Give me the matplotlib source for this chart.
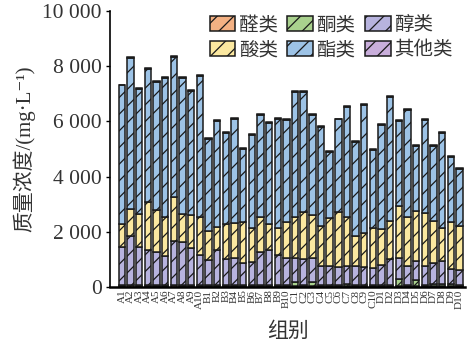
import matplotlib.pyplot as plt
import numpy as np
from matplotlib.ticker import FuncFormatter, MultipleLocator

plt.rcParams['font.family'] = ['Liberation Serif', 'Noto Sans CJK SC', 'DejaVu Sans']
plt.rcParams['hatch.linewidth'] = 0.9

groups = ['A%d' % i for i in range(1, 11)] + ['B%d' % i for i in range(1, 11)] + \
         ['C%d' % i for i in range(1, 11)] + ['D%d' % i for i in range(1, 11)]

# values in mg/L
aldehyde = [40, 50, 40, 40, 40, 40, 50, 40, 40, 40,
            30, 40, 30, 30, 30, 30, 40, 30, 30, 30,
            40, 40, 40, 30, 30, 30, 40, 30, 30, 30,
            30, 40, 40, 30, 40, 30, 40, 30, 30, 30]
ketone = [30, 30, 30, 30, 30, 30, 30, 30, 30, 30,
          30, 30, 30, 30, 30, 30, 30, 30, 30, 30,
          150, 40, 130, 30, 30, 30, 60, 40, 40, 30,
          40, 40, 250, 40, 200, 40, 60, 90, 90, 50]
alcohol = [1370, 1780, 1360, 1270, 1190, 1030, 1590, 1570, 1320, 1080,
           920, 1270, 950, 980, 820, 840, 1190, 1260, 1100, 980,
           850, 930, 870, 710, 680, 650, 670, 670, 640, 620,
           730, 930, 770, 700, 680, 670, 780, 800, 530, 540]
acid = [830, 950, 1200, 1730, 1520, 1420, 1590, 1000, 1210, 1400,
        1050, 830, 1260, 1260, 1460, 1250, 1290, 950, 990, 1300,
        1510, 1720, 1570, 1420, 1750, 2020, 1780, 1110, 1260, 1450,
        1290, 1360, 1870, 1750, 1840, 1930, 1490, 1210, 1690, 1600]
ester = [5030, 5480, 4540, 4820, 4650, 5040, 5080, 4930, 4490, 5100,
         3330, 3850, 3300, 3800, 2650, 3360, 3690, 3680, 3930, 3700,
         4520, 4340, 3610, 3610, 2410, 3340, 3970, 3410, 4620, 2840,
         3770, 4530, 3100, 3900, 2340, 3370, 2730, 3440, 2360, 2050]
others = [30, 30, 30, 30, 30, 30, 30, 30, 30, 30,
          30, 30, 30, 30, 30, 30, 30, 30, 30, 30,
          30, 30, 30, 30, 30, 30, 30, 30, 30, 30,
          30, 30, 30, 30, 30, 30, 30, 30, 30, 30]

series = [('醛类', aldehyde, '#F4B183'),
          ('酮类', ketone, '#A9D18E'),
          ('醇类', alcohol, '#B7B3DE'),
          ('酸类', acid, '#FBE8A0'),
          ('酯类', ester, '#9DC3E6'),
          ('其他类', others, '#C9AEDB')]

fig = plt.figure(figsize=(4.67, 3.55), dpi=100)
ax = fig.add_axes([0.236, 0.192, 0.76, 0.777])

x = np.arange(len(groups))
bottom = np.zeros(len(groups))
handles = {}
for name, vals, color in series:
    vals = np.array(vals, dtype=float)
    b = ax.bar(x, vals, 0.74, bottom=bottom, color=color, edgecolor='#1a1a1a',
               linewidth=1.1, hatch='//', label=name)
    handles[name] = b
    bottom += vals

ax.set_xlim(-1.35, 39.65)
ax.set_ylim(0, 10000)
ax.yaxis.set_major_locator(MultipleLocator(2000))
ax.yaxis.set_major_formatter(FuncFormatter(lambda v, p: f"{int(v):,}".replace(',', ' ')))
ax.set_xticks(x)
ax.set_xticklabels(groups, rotation=90, fontsize=8, color='#333333')
ax.tick_params(axis='x', length=0, pad=2)
ax.tick_params(axis='y', direction='out', length=3, width=1, labelsize=15.5, pad=3,
               labelcolor='#333333')
for s in ['top', 'right']:
    ax.spines[s].set_visible(False)
ax.spines['left'].set_linewidth(1.2)
ax.spines['bottom'].set_linewidth(1.8)

ax.set_ylabel('质量浓度/(mg·L⁻¹)', fontsize=15, labelpad=5, color='#333333')
ax.set_xlabel('组别', fontsize=15, labelpad=10, color='#333333')

order = ['醛类', '酸类', '酮类', '酯类', '醇类', '其他类']
ax.legend([handles[n] for n in order], order, ncol=3, loc='upper right',
          bbox_to_anchor=(1.015, 1.045), frameon=False, fontsize=14,
          handlelength=1.3, handleheight=0.8, handletextpad=0.2,
          columnspacing=0.5, labelspacing=0.35, labelcolor='#333333')

fig.savefig('out.png', dpi=100)
